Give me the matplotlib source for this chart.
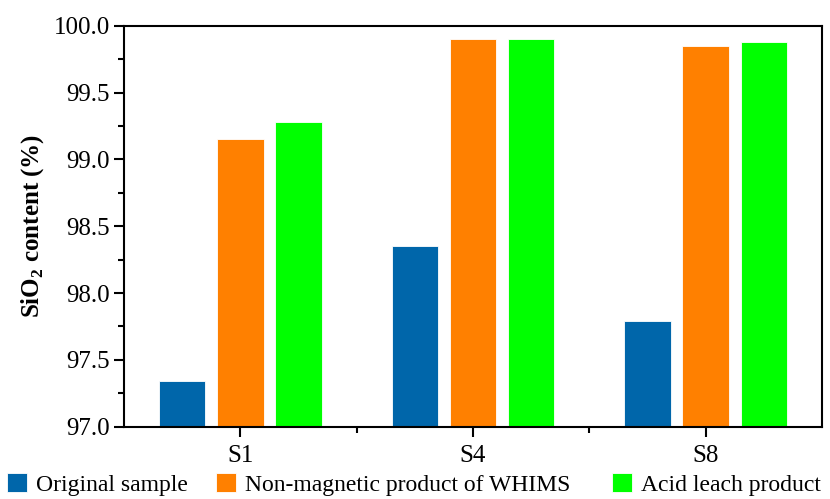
import numpy as np
import matplotlib.pyplot as plt
from matplotlib.ticker import MultipleLocator, FixedLocator

plt.rcParams['font.family'] = ['Liberation Serif', 'DejaVu Serif']

samples = ['S1', 'S4', 'S8']
original = [97.34, 98.35, 97.79]
whims = [99.15, 99.90, 99.85]
acid = [99.28, 99.90, 99.88]
series_names = ['Original sample', 'Non-magnetic product of WHIMS', 'Acid leach product']
colors = ['#0066aa', '#ff8000', '#00ff00']

fig = plt.figure(figsize=(8.3, 4.99), dpi=100)
ax = fig.add_axes([0.1494, 0.1449, 0.841, 0.8036])

x = np.arange(len(samples))
w = 0.2
off = 0.25
handles = []
for k, (vals, c, name) in enumerate(zip([original, whims, acid], colors, series_names)):
    h = ax.bar(x + (k - 1) * off, np.array(vals) - 97.0, bottom=97.0, width=w,
               color=c, edgecolor='white', linewidth=0.6, label=name)
    handles.append(h)

ax.set_xlim(-0.5, 2.5)
ax.set_ylim(97.0, 100.0)
ax.set_xticks(x)
ax.set_xticklabels(samples)
ax.xaxis.set_minor_locator(FixedLocator([0.5, 1.5]))
ax.yaxis.set_major_locator(MultipleLocator(0.5))
ax.yaxis.set_minor_locator(MultipleLocator(0.25))
ax.yaxis.set_major_formatter(plt.FormatStrFormatter('%.1f'))

for s in ax.spines.values():
    s.set_linewidth(1.5)
ax.tick_params(which='both', direction='out', width=1.5, labelsize=18, top=False, right=False)
ax.tick_params(which='major', length=7, pad=3)
ax.tick_params(which='minor', length=4.5)
ax.tick_params(axis='x', pad=6)

ax.set_ylabel('SiO$_\\mathregular{2}$ content (%)', fontsize=18, fontweight='bold', labelpad=6)

# legend entries placed one by one along the bottom edge
leg_x = [0.008, 0.26, 0.737]
for h, name, lx in zip(handles, series_names, leg_x):
    fig.legend(handles=[h], labels=[name], loc='lower left',
               bbox_to_anchor=(lx, 0.006), frameon=False, fontsize=17,
               borderpad=0, borderaxespad=0, handlelength=0.85, handleheight=0.85,
               handletextpad=0.4)

fig.savefig('out.png', dpi=100)
